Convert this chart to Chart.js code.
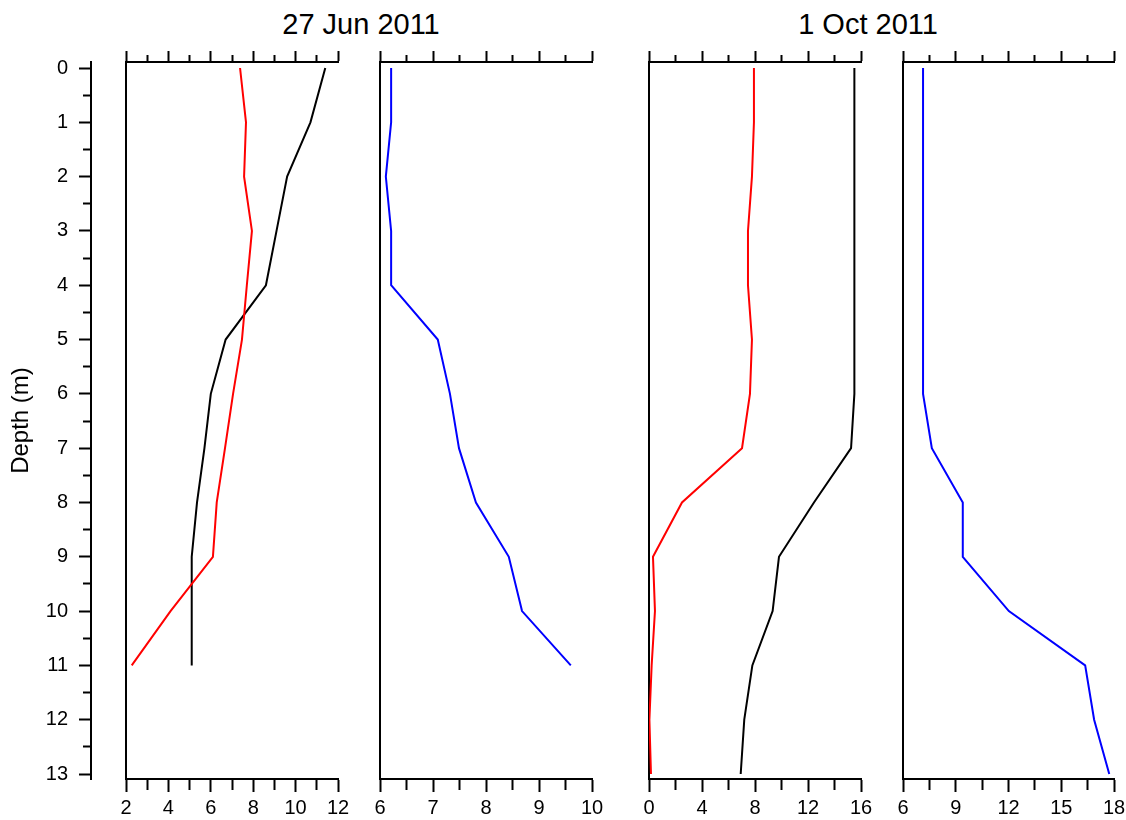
<!DOCTYPE html>
<html><head><meta charset="utf-8">
<script src="https://cdn.jsdelivr.net/npm/chart.js@4/dist/chart.umd.min.js"></script>
<style>
html,body{margin:0;padding:0;background:#fff;overflow:hidden;width:1126px;height:820px;position:relative;}
canvas{position:absolute;top:0;}
.ttl{position:absolute;top:10px;font-family:'Liberation Sans',Arial,sans-serif;font-size:29px;line-height:29px;color:#000;white-space:nowrap;transform:translateX(-50%);}
</style></head><body>
<div class="ttl" style="left:361px">27 Jun 2011</div>
<div class="ttl" style="left:868px">1 Oct 2011</div>
<canvas id="cDepth"></canvas>
<canvas id="c1"></canvas>
<canvas id="c2"></canvas>
<canvas id="c3"></canvas>
<canvas id="c4"></canvas>
<script>
// ---- data ----
const depthJun = [0,1,2,3,4,5,6,7,8,9,10,11];
const depthOct = [0,1,2,3,4,5,6,7,8,9,10,11,12,13];
const junBlack = [11.4,10.7,9.6,9.1,8.6,6.7,6.0,5.7,5.35,5.1,5.1,5.1];
const junRed   = [7.38,7.66,7.57,7.94,7.7,7.47,7.05,6.67,6.28,6.1,4.1,2.27];
const junBlue  = [6.21,6.21,6.11,6.21,6.21,7.09,7.32,7.49,7.81,8.43,8.68,9.6];
const octRed   = [7.92,7.92,7.77,7.47,7.47,7.77,7.62,7.02,2.49,0.3,0.45,0.2,0.03,0.15];
const octBlack = [15.5,15.5,15.5,15.5,15.5,15.5,15.5,15.25,12.45,9.81,9.33,7.8,7.19,6.92];
const octBlue  = [7.14,7.14,7.14,7.14,7.14,7.14,7.14,7.64,9.4,9.4,12.02,16.36,16.87,17.73];
// tick labels
const depthLabels = [0,1,2,3,4,5,6,7,8,9,10,11,12,13];
const p1Labels = [2,4,6,8,10,12];
const p2Labels = [6,7,8,9,10];
const p3Labels = [0,4,8,12,16];
const p4Labels = [6,9,12,15,18];

const FONT = "'Liberation Sans', Arial, Helvetica, sans-serif";
const TICKSIZE = 20;
const AX = 2;
const TOP = 62, BOTTOM = 779, H = 820;
const YMIN = -0.1105, YMAX = 13.092;

function isIn(arr, v){ return arr.some(a => Math.abs(a - v) < 1e-6); }
function withMinors(majors){
  const out = [];
  for (let i = 0; i < majors.length; i++){
    out.push(majors[i]);
    if (i < majors.length - 1) out.push((majors[i] + majors[i+1]) / 2);
  }
  return out;
}
function pts(xs, ds){ return xs.map((v, i) => ({x: v, y: ds[i]})); }
function ds(xs, depths, color){
  return {data: pts(xs, depths), borderColor: color, backgroundColor: color, borderWidth: 2, pointRadius: 0, tension: 0, fill: false};
}

function panel(id, L, R, majors, datasets){
  const pad = 24;
  const cv = document.getElementById(id);
  cv.width = R - L + 2 * pad; cv.height = H; cv.style.left = (L - pad) + 'px';
  const all = withMinors(majors);
  const xmin = majors[0], xmax = majors[majors.length - 1];
  const minor = c => c && c.tick && !isIn(majors, c.tick.value);
  new Chart(cv, {
    type: 'line',
    data: {datasets},
    options: {
      responsive: false, animation: false, devicePixelRatio: 1, events: [],
      layout: {padding: {left: pad, right: pad, top: 0, bottom: 0}},
      plugins: {legend: {display: false}, tooltip: {enabled: false}},
      scales: {
        x: {type: 'linear', position: 'bottom', min: xmin, max: xmax,
          afterBuildTicks: s => { s.ticks = all.map(v => ({value: v})); },
          afterFit: s => { s.height = H - BOTTOM; },
          grid: {display: true, drawOnChartArea: false, drawTicks: true, tickLength: 13, tickWidth: AX, tickColor: '#000',
            tickBorderDash: c => minor(c) ? [10, 100] : []},
          border: {display: true, color: '#000', width: AX},
          ticks: {autoSkip: false, maxRotation: 0, minRotation: 0, padding: 4, color: '#000',
            font: {family: FONT, size: TICKSIZE}, callback: v => isIn(majors, v) ? String(v) : ''}
        },
        xTop: {type: 'linear', position: 'top', min: xmin, max: xmax,
          afterBuildTicks: s => { s.ticks = all.map(v => ({value: v})); },
          afterFit: s => { s.height = TOP; },
          grid: {display: true, drawOnChartArea: false, drawTicks: true, tickLength: 11, tickWidth: AX, tickColor: '#000',
            tickBorderDash: c => minor(c) ? [7, 4] : [], tickBorderDashOffset: c => minor(c) ? 7 : 0},
          border: {display: true, color: '#000', width: AX},
          ticks: {display: false}
        },
        y: {type: 'linear', position: 'left', min: YMIN, max: YMAX, reverse: true,
          afterFit: s => { s.width = 0; },
          grid: {display: false}, border: {display: true, color: '#000', width: AX}, ticks: {display: false}
        }
      }
    }
  });
}

// depth axis
(function(){
  const cv = document.getElementById('cDepth');
  const W = 130;
  cv.width = W; cv.height = H; cv.style.left = '0px';
  const all = withMinors(depthLabels);
  const minor = c => c && c.tick && !isIn(depthLabels, c.tick.value);
  new Chart(cv, {
    type: 'line',
    data: {datasets: []},
    options: {
      responsive: false, animation: false, devicePixelRatio: 1, events: [],
      layout: {padding: {left: 0, right: W - 91 - 29, top: TOP, bottom: H - BOTTOM}},
      plugins: {legend: {display: false}, tooltip: {enabled: false}},
      scales: {
        x: {type: 'linear', display: false, min: 0, max: 1},
        y: {type: 'linear', position: 'left', min: YMIN, max: YMAX, reverse: true,
          afterBuildTicks: s => { s.ticks = all.map(v => ({value: v})); },
          afterFit: s => { s.width = 91; },
          grid: {display: true, drawOnChartArea: false, drawTicks: true, tickLength: 12, tickWidth: AX, tickColor: '#000',
            tickBorderDash: c => minor(c) ? [8, 4] : [], tickBorderDashOffset: c => minor(c) ? 8 : 0},
          border: {display: true, color: '#000', width: AX},
          ticks: {autoSkip: false, padding: 11, color: '#000', font: {family: FONT, size: TICKSIZE},
            callback: v => isIn(depthLabels, v) ? String(v) : ''},
          title: {display: true, text: 'Depth (m)', color: '#000', font: {family: FONT, size: 24}, padding: {top: 7, bottom: 0}}
        }
      }
    }
  });
})();

panel('c1', 126, 338, p1Labels, [ds(junRed, depthJun, '#ff0000'), ds(junBlack, depthJun, '#000000')]);
panel('c2', 380, 592, p2Labels, [ds(junBlue, depthJun, '#0000ff')]);
panel('c3', 649, 861, p3Labels, [ds(octRed, depthOct, '#ff0000'), ds(octBlack, depthOct, '#000000')]);
panel('c4', 903, 1114, p4Labels, [ds(octBlue, depthOct, '#0000ff')]);
</script>
</body></html>
